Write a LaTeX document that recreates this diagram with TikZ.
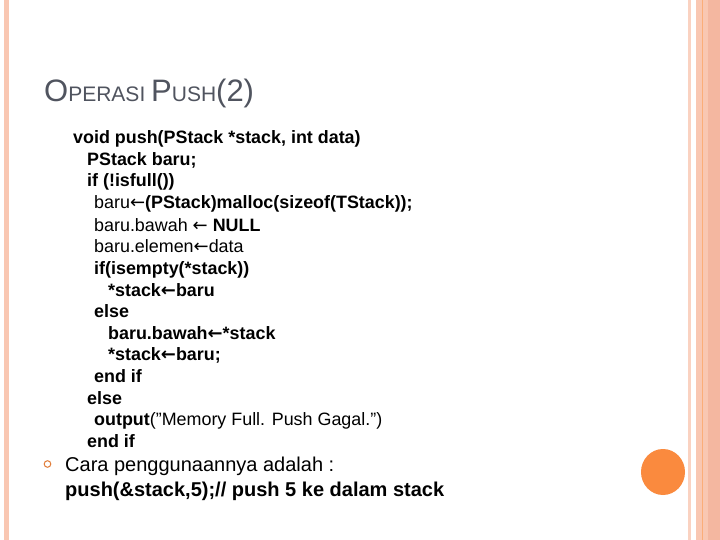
\documentclass[tikz,border=0pt]{standalone}
\usepackage{fontspec}
\setmainfont{Liberation Sans}
\newfontfamily\djv{DejaVu Sans}
\definecolor{peach}{HTML}{F9C7B2}
\definecolor{peachd}{HTML}{F4B7A0}
\definecolor{titlec}{HTML}{50545F}
\definecolor{orng}{HTML}{FA8A3E}
\newcommand{\la}{{\djv\fontsize{18}{18}\selectfont ←}}
\newcommand{\lab}{{\djv\bfseries\fontsize{18}{18}\selectfont ←}}
\newcommand{\dq}{\symbol{34}}
\begin{document}
\begin{tikzpicture}[x=1pt,y=-1pt,
  code/.style={anchor=base west,inner sep=0pt,font=\fontsize{17.9}{18}\selectfont\bfseries},
  big/.style={anchor=base west,inner sep=0pt,font=\fontsize{20}{22}\selectfont}]
\useasboundingbox (0,0) rectangle (720,540);
\fill[white] (0,0) rectangle (720,540);
\fill[peach] (4,0) rectangle (9,540);
\fill[peach!80] (688,0) rectangle (691,540);
\fill[peach] (696,0) rectangle (720,540);
\fill[peachd] (708,0) rectangle (720,540);
\draw[orng!70,line width=0.8] (702.5,0) -- (702.5,540);
\node[anchor=base west,inner sep=0pt,text=titlec] (title) at (44,102)
  {\fontsize{31}{32}\selectfont O\fontsize{21}{22}\selectfont PERASI \fontsize{31}{32}\selectfont P\fontsize{21}{22}\selectfont USH\fontsize{31}{32}\selectfont (2)};
\node[code] (l1) at (73,144) {void push(PStack *stack, int data)};
\node[code] (l2) at (87,166) {PStack baru;};
\node[code] (l3) at (87,187) {if (!isfull())};
\node[code] (l4) at (94,209) {\mdseries baru\la\bfseries(PStack)malloc(sizeof(TStack));};
\node[code] (l5) at (94,231) {\mdseries baru.bawah \la\ \bfseries NULL};
\node[code] (l6) at (94,252) {\mdseries baru.elemen\la data};
\node[code] (l7) at (94,274) {if(isempty(*stack))};
\node[code] (l8) at (108,296) {*stack\lab baru};
\node[code] (l9) at (94,317) {else};
\node[code] (l10) at (108,339) {baru.bawah\lab*stack};
\node[code] (l11) at (108,360) {*stack\lab baru;};
\node[code] (l12) at (94,382) {end if};
\node[code] (l13) at (87,404) {else};
\node[code] (l14) at (94,425) {output\mdseries(\dq Memory Full. Push Gagal.\dq)};
\node[code] (l15) at (87,447) {end if};
\draw[orng!90!black,line width=1] (47.5,464) circle (3.3);
\node[big] (c1) at (65,471) {Cara penggunaannya adalah :};
\node[big,font=\fontsize{20}{22}\selectfont\bfseries] (c2) at (65,496) {push(\&stack,5);// push 5 ke dalam stack};
\fill[orng] (663,472) ellipse (22 and 23);
\end{tikzpicture}
\end{document}
